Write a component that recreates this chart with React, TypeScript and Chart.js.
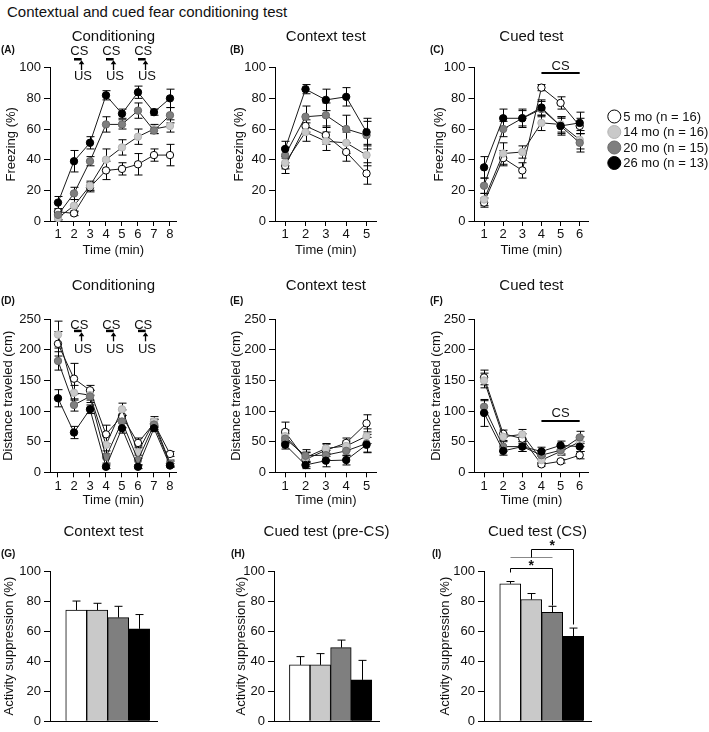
import React, { useEffect, useRef } from 'react';
import { Chart, registerables } from 'chart.js';

Chart.register(...registerables);

const FONT = '"Liberation Sans", Arial, Helvetica, sans-serif';
const INK = '#111111';

// ---------- data ----------
const groupLabels = ['5 mo (n = 16)', '14 mo (n = 16)', '20 mo (n = 15)', '26 mo (n = 13)'];
const groupFill = ['#ffffff', '#c9c9c9', '#7f7f7f', '#000000'];
const groupEdge = ['#000000', '#b3b3b3', '#6a6a6a', '#000000'];
const groupIndex = [1, 2, 3, 4];

const condMinutes = [1, 2, 3, 4, 5, 6, 7, 8];
const contextMinutes = [1, 2, 3, 4, 5];
const cuedMinutes = [1, 2, 3, 4, 5, 6];
const shockMinutes = [2, 4, 6];

const freezeTicks = [0, 20, 40, 60, 80, 100];
const distanceTicks = [0, 50, 100, 150, 200, 250];
const suppressionTicks = [0, 20, 40, 60, 80, 100];

// (A) Conditioning – freezing (%)
const condFreeze5 = [6, 5, 22, 33, 34, 37, 43, 43];
const condFreeze14 = [2, 10, 23, 40, 48, 55, 60, 62];
const condFreeze20 = [4, 18, 39, 63, 63, 72, 59, 69];
const condFreeze26 = [12, 39, 51, 82, 70, 84, 71, 80];
const condFreezeSem5 = [2, 1.5, 3, 6, 4, 7, 4, 7];
const condFreezeSem14 = [2, 4, 3, 7, 5, 5, 3, 4];
const condFreezeSem20 = [3, 4, 3, 5, 3, 5, 2, 5];
const condFreezeSem26 = [4, 7, 4, 3, 3, 4, 2, 6];

// (B) Context test – freezing (%)
const ctxFreeze5 = [36, 62, 56, 45, 31];
const ctxFreeze14 = [38, 58, 52, 51, 43];
const ctxFreeze20 = [43, 68, 69, 60, 56];
const ctxFreeze26 = [47, 86, 79, 81, 58];
const ctxFreezeSem5 = [5, 4, 6, 6, 7];
const ctxFreezeSem14 = [4, 6, 6, 7, 7];
const ctxFreezeSem20 = [5, 7, 8, 9, 9];
const ctxFreezeSem26 = [5, 3, 7, 6, 9];

// (C) Cued test – freezing (%)
const cueFreeze5 = [12, 41, 33, 87, 77, 62];
const cueFreeze14 = [14, 44, 45, 64, 63, 53];
const cueFreeze20 = [23, 60, 67, 73, 62, 51];
const cueFreeze26 = [35, 67, 67, 74, 62, 64];
const cueFreezeSem5 = [3, 5, 5, 2, 4, 5];
const cueFreezeSem14 = [4, 7, 4, 5, 5, 6];
const cueFreezeSem20 = [5, 5, 5, 5, 5, 6];
const cueFreezeSem26 = [7, 6, 6, 5, 6, 7];

// (D) Conditioning – distance traveled (cm)
const condDist5 = [210, 153, 134, 62, 92, 48, 80, 30];
const condDist14 = [225, 130, 126, 45, 103, 33, 83, 15];
const condDist20 = [182, 110, 124, 25, 83, 20, 78, 14];
const condDist26 = [121, 65, 103, 9, 72, 9, 72, 11];
const condDistSem5 = [20, 25, 8, 15, 10, 8, 7, 4];
const condDistSem14 = [22, 12, 8, 15, 10, 10, 8, 5];
const condDistSem20 = [15, 10, 10, 10, 10, 8, 8, 4];
const condDistSem26 = [14, 10, 7, 3, 8, 3, 5, 3];

// (E) Context test – distance traveled (cm)
const ctxDist5 = [66, 21, 36, 48, 80];
const ctxDist14 = [59, 24, 39, 43, 59];
const ctxDist20 = [55, 27, 28, 35, 47];
const ctxDist26 = [45, 12, 19, 20, 45];
const ctxDistSem5 = [16, 12, 10, 8, 14];
const ctxDistSem14 = [10, 8, 8, 8, 12];
const ctxDistSem20 = [8, 10, 8, 8, 15];
const ctxDistSem26 = [7, 6, 10, 8, 12];

// (F) Cued test – distance traveled (cm)
const cueDist5 = [155, 63, 55, 13, 18, 28];
const cueDist14 = [150, 58, 62, 20, 34, 50];
const cueDist20 = [107, 42, 42, 28, 36, 57];
const cueDist26 = [97, 35, 42, 34, 44, 42];
const cueDistSem5 = [12, 6, 8, 3, 3, 6];
const cueDistSem14 = [12, 6, 8, 6, 6, 8];
const cueDistSem20 = [10, 8, 8, 7, 6, 10];
const cueDistSem26 = [22, 7, 8, 7, 7, 8];

// (G)(H)(I) Activity suppression (%)
const suppContext = [74, 74, 69, 61.5];
const suppContextSem = [6, 4.5, 7.5, 9.5];
const suppPreCS = [37.5, 37.5, 49, 27.5];
const suppPreCSSem = [5.5, 7.5, 5, 13];
const suppCS = [91.5, 81, 72.5, 56.5];
const suppCSSem = [1.5, 4, 4, 5.5];

// ---------- decoration plugin ----------
type Decor = {
  title: string;
  titleY: number;
  letter: string;
  letterX: number;
  letterY: number;
  errs?: number[][];
  errMode?: 'both' | 'up';
  shock?: { marks: number[]; csY: number; barY: number; arrowTip: number; arrowBase: number; usY: number };
  csLine?: { from: number; to: number; y: number; textY: number };
  legend?: { x: number; y0: number; dy: number; r: number };
  brackets?: { lines: { pts: number[][]; color: string }[]; stars: number[][] };
};

function drawErrors(chart: any, d: Decor) {
  if (!d.errs) return;
  const ctx = chart.ctx;
  const ys = chart.scales.y;
  ctx.save();
  ctx.strokeStyle = '#000';
  ctx.lineWidth = 1;
  d.errs.forEach((arr, i) => {
    const meta = chart.getDatasetMeta(i);
    const data = chart.data.datasets[i].data as any[];
    arr.forEach((e, j) => {
      const el = meta.data[j];
      if (!el) return;
      const v = data[j].y;
      const x = Math.round(el.x) + 0.5;
      const top = ys.getPixelForValue(v + e);
      const bot = d.errMode === 'both' ? ys.getPixelForValue(v - e) : ys.getPixelForValue(v);
      const half = 4;
      ctx.beginPath();
      ctx.moveTo(x, top);
      ctx.lineTo(x, bot);
      ctx.moveTo(x - half, top);
      ctx.lineTo(x + half, top);
      if (d.errMode === 'both') {
        ctx.moveTo(x - half, bot);
        ctx.lineTo(x + half, bot);
      }
      ctx.stroke();
    });
  });
  ctx.restore();
}

function makeDecor(d: Decor) {
  return {
    id: 'decor',
    beforeDatasetsDraw(chart: any) {
      if (d.errMode === 'both') drawErrors(chart, d);
    },
    afterDatasetsDraw(chart: any) {
      if (d.errMode === 'up') drawErrors(chart, d);
    },
    afterDraw(chart: any) {
      const ctx = chart.ctx;
      const ca = chart.chartArea;
      const xs = chart.scales.x;
      const ys = chart.scales.y;
      ctx.save();
      ctx.fillStyle = INK;
      ctx.textAlign = 'center';
      ctx.textBaseline = 'middle';
      ctx.font = `15px ${FONT}`;
      ctx.fillText(d.title, (ca.left + ca.right) / 2, d.titleY);
      ctx.textAlign = 'left';
      ctx.font = `bold 10px ${FONT}`;
      ctx.fillText(d.letter, d.letterX, d.letterY);

      if (d.shock) {
        const s = d.shock;
        ctx.font = `13px ${FONT}`;
        ctx.textAlign = 'center';
        s.marks.forEach((m) => {
          ctx.fillStyle = INK;
          ctx.fillText('CS', xs.getPixelForValue(m + 0.33), ys.getPixelForValue(s.csY));
          const by = ys.getPixelForValue(s.barY);
          ctx.strokeStyle = '#000';
          ctx.lineWidth = 2.5;
          ctx.beginPath();
          ctx.moveTo(xs.getPixelForValue(m), by);
          ctx.lineTo(xs.getPixelForValue(m + 0.48), by);
          ctx.stroke();
          const ax = xs.getPixelForValue(m + 0.47);
          const tip = ys.getPixelForValue(s.arrowTip);
          const base = ys.getPixelForValue(s.arrowBase);
          ctx.lineWidth = 1.3;
          ctx.beginPath();
          ctx.moveTo(ax, base);
          ctx.lineTo(ax, tip + 3);
          ctx.stroke();
          ctx.fillStyle = '#000';
          ctx.beginPath();
          ctx.moveTo(ax, tip);
          ctx.lineTo(ax - 2.8, tip + 4);
          ctx.lineTo(ax + 2.8, tip + 4);
          ctx.closePath();
          ctx.fill();
          ctx.fillStyle = INK;
          ctx.fillText('US', xs.getPixelForValue(m + 0.56), ys.getPixelForValue(s.usY));
        });
      }

      if (d.csLine) {
        const c = d.csLine;
        const y = ys.getPixelForValue(c.y);
        ctx.strokeStyle = '#000';
        ctx.lineWidth = 2;
        ctx.beginPath();
        ctx.moveTo(xs.getPixelForValue(c.from), y);
        ctx.lineTo(xs.getPixelForValue(c.to), y);
        ctx.stroke();
        ctx.font = `13px ${FONT}`;
        ctx.textAlign = 'center';
        ctx.fillStyle = INK;
        ctx.fillText('CS', xs.getPixelForValue((c.from + c.to) / 2), ys.getPixelForValue(c.textY));
      }

      if (d.legend) {
        const L = d.legend;
        ctx.font = `13px ${FONT}`;
        ctx.textAlign = 'left';
        groupLabels.forEach((lab, i) => {
          const y = L.y0 + i * L.dy;
          ctx.beginPath();
          ctx.arc(L.x, y, L.r, 0, Math.PI * 2);
          ctx.fillStyle = groupFill[i];
          ctx.fill();
          ctx.strokeStyle = groupEdge[i];
          ctx.lineWidth = 1;
          ctx.stroke();
          ctx.fillStyle = INK;
          ctx.fillText(lab, L.x + 9, y + 0.5);
        });
      }

      if (d.brackets) {
        const B = d.brackets;
        B.lines.forEach((ln) => {
          ctx.strokeStyle = ln.color;
          ctx.lineWidth = 1;
          ctx.beginPath();
          ln.pts.forEach((p, k) => {
            const px = Math.round(xs.getPixelForValue(p[0])) + 0.5;
            const py = Math.round(ys.getPixelForValue(p[1])) + 0.5;
            if (k === 0) ctx.moveTo(px, py);
            else ctx.lineTo(px, py);
          });
          ctx.stroke();
        });
        ctx.font = `bold 14px ${FONT}`;
        ctx.textAlign = 'center';
        ctx.fillStyle = INK;
        B.stars.forEach((s) => {
          ctx.fillText('*', xs.getPixelForValue(s[0]), ys.getPixelForValue(s[1]) + 3);
        });
      }
      ctx.restore();
    },
  };
}

// ---------- config builders ----------
type Box = { left: number; top: number; w: number; h: number; yAxisW: number; padTop: number; padRight: number; xAxisH: number; yTitlePad: number };

function yAxis(box: Box, ticks: number[], title: string) {
  return {
    min: ticks[0],
    max: ticks[ticks.length - 1],
    afterBuildTicks: (s: any) => {
      s.ticks = ticks.map((v) => ({ value: v }));
    },
    ticks: { font: { size: 13, family: FONT }, color: INK, padding: 3 },
    grid: { display: true, drawOnChartArea: false, drawTicks: true, tickLength: 6, color: '#000', lineWidth: 1 },
    border: { display: true, color: '#000', width: 1 },
    title: { display: true, text: title, font: { size: 13, family: FONT }, color: INK, padding: { top: box.yTitlePad, bottom: 0 } },
    afterFit: (s: any) => {
      s.width = box.yAxisW;
    },
  };
}

function lineConfig(
  box: Box,
  minutes: number[],
  xMax: number,
  series: number[][],
  sems: number[][],
  yTicks: number[],
  yTitle: string,
  decor: Decor
) {
  const datasets = series.map((vals, g) => ({
    label: groupLabels[g],
    data: vals.map((v, i) => ({ x: minutes[i], y: v })),
    borderColor: '#1a1a1a',
    borderWidth: 1,
    backgroundColor: groupFill[g],
    pointBackgroundColor: groupFill[g],
    pointBorderColor: groupEdge[g],
    pointBorderWidth: 1,
    pointRadius: 3.7,
    tension: 0,
    clip: false as any,
    order: 3 - g,
  }));
  return {
    type: 'line' as const,
    data: { datasets },
    plugins: [makeDecor({ ...decor, errs: sems, errMode: 'both' })],
    options: {
      animation: false as const,
      responsive: false,
      devicePixelRatio: 1,
      events: [],
      layout: { padding: { top: box.padTop, right: box.padRight, left: 0, bottom: 0 } },
      plugins: { legend: { display: false }, tooltip: { enabled: false }, title: { display: false } },
      scales: {
        x: {
          type: 'linear' as const,
          min: 0.5,
          max: xMax,
          afterBuildTicks: (s: any) => {
            s.ticks = minutes.map((v) => ({ value: v }));
          },
          ticks: { autoSkip: false, maxRotation: 0, font: { size: 13, family: FONT }, color: INK, padding: 1 },
          grid: { display: true, drawOnChartArea: false, drawTicks: true, tickLength: 5, color: '#000', lineWidth: 1 },
          border: { display: true, color: '#000', width: 1 },
          title: { display: true, text: 'Time (min)', font: { size: 13, family: FONT }, color: INK, padding: { top: 0, bottom: 4 } },
          afterFit: (s: any) => {
            s.height = box.xAxisH;
          },
        },
        y: yAxis(box, yTicks, yTitle),
      },
    },
  };
}

function barConfig(box: Box, vals: number[], sems: number[], decor: Decor) {
  return {
    type: 'bar' as const,
    data: {
      datasets: [
        {
          data: vals.map((v, i) => ({ x: groupIndex[i], y: v })),
          backgroundColor: groupFill,
          borderColor: '#000',
          borderWidth: 1,
          borderSkipped: 'bottom' as const,
          barPercentage: 1,
          categoryPercentage: 1,
        },
      ],
    },
    plugins: [makeDecor({ ...decor, errs: [sems], errMode: 'up' })],
    options: {
      animation: false as const,
      responsive: false,
      devicePixelRatio: 1,
      events: [],
      layout: { padding: { top: box.padTop, right: box.padRight, left: 0, bottom: 0 } },
      plugins: { legend: { display: false }, tooltip: { enabled: false }, title: { display: false } },
      scales: {
        x: {
          type: 'linear' as const,
          offset: false,
          min: -0.25,
          max: 4.85,
          ticks: { display: false },
          grid: { display: false, offset: false },
          border: { display: true, color: '#000', width: 1 },
          afterFit: (s: any) => {
            s.height = box.xAxisH;
          },
        },
        y: yAxis(box, suppressionTicks, 'Activity suppression (%)'),
      },
    },
  };
}

// ---------- layout boxes ----------
const boxA: Box = { left: 0, top: 0, w: 230, h: 262, yAxisW: 50, padTop: 67.7, padRight: 53.3, xAxisH: 41, yTitlePad: 4 };
const boxB: Box = { left: 228, top: 0, w: 200, h: 262, yAxisW: 47, padTop: 67.7, padRight: 51.3, xAxisH: 41, yTitlePad: 4 };
const boxC: Box = { left: 428, top: 0, w: 281, h: 262, yAxisW: 46.5, padTop: 67.7, padRight: 120.7, xAxisH: 41, yTitlePad: 4 };
const boxD: Box = { left: 0, top: 262, w: 230, h: 250, yAxisW: 50, padTop: 57.3, padRight: 53.3, xAxisH: 39.7, yTitlePad: 1 };
const boxE: Box = { left: 228, top: 262, w: 200, h: 250, yAxisW: 47, padTop: 57.3, padRight: 51.3, xAxisH: 39.7, yTitlePad: 1 };
const boxF: Box = { left: 428, top: 262, w: 281, h: 250, yAxisW: 46.5, padTop: 57.3, padRight: 120.7, xAxisH: 39.7, yTitlePad: 1 };
const boxG: Box = { left: 0, top: 512, w: 230, h: 220, yAxisW: 50, padTop: 59, padRight: 73, xAxisH: 8.7, yTitlePad: 2 };
const boxH: Box = { left: 230, top: 512, w: 200, h: 220, yAxisW: 44, padTop: 59, padRight: 51, xAxisH: 8.7, yTitlePad: 4 };
const boxI: Box = { left: 430, top: 512, w: 279, h: 220, yAxisW: 54, padTop: 59, padRight: 118, xAxisH: 8.7, yTitlePad: 8 };

const shockA = { marks: shockMinutes, csY: 110.6, barY: 105.5, arrowTip: 104.8, arrowBase: 98.5, usY: 94 };
const shockD = { marks: shockMinutes, csY: 240.7, barY: 231, arrowTip: 229, arrowBase: 214, usY: 201 };

const panels = [
  {
    box: boxA,
    make: () =>
      lineConfig(boxA, condMinutes, 8.42, [condFreeze5, condFreeze14, condFreeze20, condFreeze26],
        [condFreezeSem5, condFreezeSem14, condFreezeSem20, condFreezeSem26], freezeTicks, 'Freezing (%)',
        { title: 'Conditioning', titleY: 37, letter: '(A)', letterX: 1, letterY: 50, shock: shockA }),
  },
  {
    box: boxB,
    make: () =>
      lineConfig(boxB, contextMinutes, 5.5, [ctxFreeze5, ctxFreeze14, ctxFreeze20, ctxFreeze26],
        [ctxFreezeSem5, ctxFreezeSem14, ctxFreezeSem20, ctxFreezeSem26], freezeTicks, 'Freezing (%)',
        { title: 'Context test', titleY: 37, letter: '(B)', letterX: 2, letterY: 50 }),
  },
  {
    box: boxC,
    make: () =>
      lineConfig(boxC, cuedMinutes, 6.45, [cueFreeze5, cueFreeze14, cueFreeze20, cueFreeze26],
        [cueFreezeSem5, cueFreezeSem14, cueFreezeSem20, cueFreezeSem26], freezeTicks, 'Freezing (%)',
        {
          title: 'Cued test', titleY: 37, letter: '(C)', letterX: 2, letterY: 50,
          csLine: { from: 4, to: 6, y: 96.5, textY: 100.8 },
          legend: { x: 186.3, y0: 116.5, dy: 15.5, r: 6.5 },
        }),
  },
  {
    box: boxD,
    make: () =>
      lineConfig(boxD, condMinutes, 8.42, [condDist5, condDist14, condDist20, condDist26],
        [condDistSem5, condDistSem14, condDistSem20, condDistSem26], distanceTicks, 'Distance traveled (cm)',
        { title: 'Conditioning', titleY: 23.7, letter: '(D)', letterX: 1, letterY: 39.7, shock: shockD }),
  },
  {
    box: boxE,
    make: () =>
      lineConfig(boxE, contextMinutes, 5.5, [ctxDist5, ctxDist14, ctxDist20, ctxDist26],
        [ctxDistSem5, ctxDistSem14, ctxDistSem20, ctxDistSem26], distanceTicks, 'Distance traveled (cm)',
        { title: 'Context test', titleY: 23.7, letter: '(E)', letterX: 2, letterY: 39.7 }),
  },
  {
    box: boxF,
    make: () =>
      lineConfig(boxF, cuedMinutes, 6.45, [cueDist5, cueDist14, cueDist20, cueDist26],
        [cueDistSem5, cueDistSem14, cueDistSem20, cueDistSem26], distanceTicks, 'Distance traveled (cm)',
        {
          title: 'Cued test', titleY: 23.7, letter: '(F)', letterX: 2, letterY: 39.7,
          csLine: { from: 4, to: 6, y: 84, textY: 97 },
        }),
  },
  {
    box: boxG,
    make: () => barConfig(boxG, suppContext, suppContextSem, { title: 'Context test', titleY: 20, letter: '(G)', letterX: 1, letterY: 42 }),
  },
  {
    box: boxH,
    make: () => barConfig(boxH, suppPreCS, suppPreCSSem, { title: 'Cued test (pre-CS)', titleY: 20, letter: '(H)', letterX: 1, letterY: 42 }),
  },
  {
    box: boxI,
    make: () =>
      barConfig(boxI, suppCS, suppCSSem, {
        title: 'Cued test (CS)', titleY: 20, letter: '(I)', letterX: 2, letterY: 42,
        brackets: {
          lines: [
            { pts: [[1, 99.5], [1, 101.8], [3, 101.8], [3, 77.5]], color: '#000' },
            { pts: [[1, 109.4], [3, 109.4]], color: '#888888' },
            { pts: [[2, 109.4], [2, 114.4], [4, 114.4], [4, 64.5]], color: '#000' },
          ],
          stars: [[2, 105.5], [3, 118.5]],
        },
      }),
  },
];

function Panel({ box, make }: { box: Box; make: () => any }) {
  const ref = useRef<HTMLCanvasElement>(null);
  useEffect(() => {
    const chart = new Chart(ref.current as HTMLCanvasElement, make());
    return () => chart.destroy();
  }, []);
  return (
    <canvas
      ref={ref}
      width={box.w}
      height={box.h}
      style={{ position: 'absolute', left: box.left, top: box.top, width: box.w, height: box.h }}
    />
  );
}

export default function App() {
  return (
    <div style={{ position: 'absolute', left: 0, top: 0, width: 709, height: 732, background: '#fff', overflow: 'hidden' }}>
      <div
        style={{
          position: 'absolute',
          left: 7,
          top: 3,
          font: `15px ${FONT}`,
          lineHeight: '18px',
          color: INK,
          whiteSpace: 'nowrap',
        }}
      >
        Contextual and cued fear conditioning test
      </div>
      {panels.map((p, i) => (
        <Panel key={i} box={p.box} make={p.make} />
      ))}
    </div>
  );
}
